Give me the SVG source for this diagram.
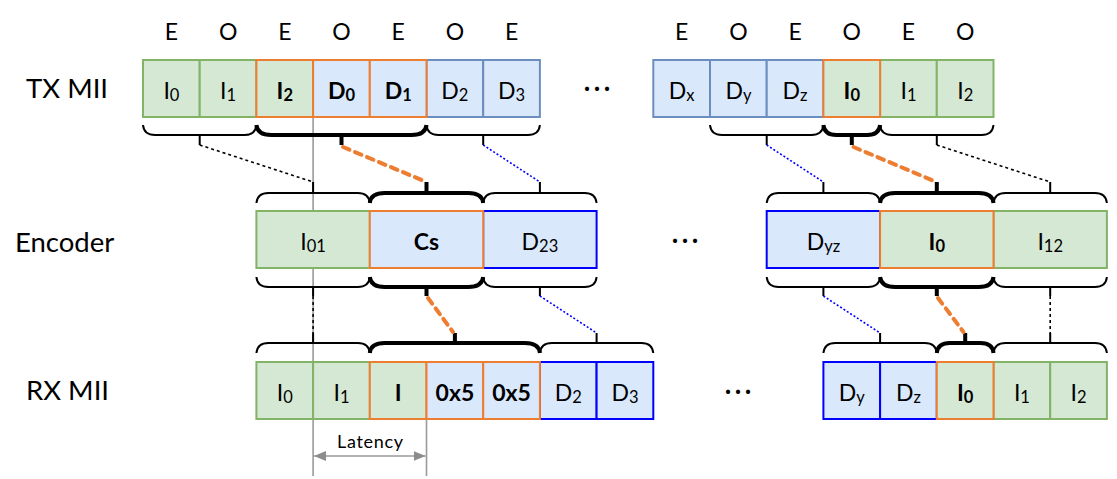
<svg xmlns="http://www.w3.org/2000/svg" width="1117" height="479" viewBox="0 0 1117 479">
  <style>
    .g { fill: #d5e8d4; stroke: #82b366; stroke-width: 2; }
    .b { fill: #dae8fc; stroke: #6c8ebf; stroke-width: 2; }
    .bb { fill: #dae8fc; stroke: #0000ff; stroke-width: 2; }
    .go { fill: #d5e8d4; stroke: #ed7d31; stroke-width: 2; }
    .bo { fill: #dae8fc; stroke: #ed7d31; stroke-width: 2; }
    text { font-family: Lato, "Liberation Sans", sans-serif; fill: #000; }
    .t { font-size: 23px; text-anchor: middle; }
    .s { font-size: 16.5px; }
    .k { font-weight: 700; }
    .lbl { font-size: 27.5px; }
    .dots { font-size: 22px; font-weight: 700; text-anchor: middle; }
    .brace { fill: none; stroke: #000; stroke-width: 2; }
    .brace.thick { stroke-width: 4; }
    .dotk { stroke: #000; stroke-width: 1.6; stroke-dasharray: 3 3; }
    .dotb { stroke: #0000ff; stroke-width: 1.6; stroke-dasharray: 2 2; }
    .dasho { stroke: #ed7d31; stroke-width: 4; stroke-dasharray: 7 6; stroke-linecap: round; }
    .guide { stroke: #9a9a9a; stroke-width: 1.6; fill: none; }
  </style>
  <defs>
    <marker id="tri" viewBox="0 0 12 10" refX="12" refY="5" markerWidth="12" markerHeight="10" markerUnits="userSpaceOnUse" orient="auto-start-reverse">
      <path d="M0,0 L12,5 L0,10 z" fill="#8c8c8c"/>
    </marker>
  </defs>

  <!-- row labels -->
  <g id="row-labels">
    <text class="lbl" x="26" y="98">TX MII</text>
    <text class="lbl" x="15" y="252">Encoder</text>
    <text class="lbl" x="26" y="400">RX MII</text>
  </g>

  <!-- even / odd markers above the TX lane -->
  <g id="parity">
    <text class="t" x="171.4" y="40">E</text>
    <text class="t" x="228.1" y="40">O</text>
    <text class="t" x="284.8" y="40">E</text>
    <text class="t" x="341.5" y="40">O</text>
    <text class="t" x="398.2" y="40">E</text>
    <text class="t" x="454.9" y="40">O</text>
    <text class="t" x="511.6" y="40">E</text>
    <text class="t" x="681.7" y="40">E</text>
    <text class="t" x="738.4" y="40">O</text>
    <text class="t" x="795.1" y="40">E</text>
    <text class="t" x="851.8" y="40">O</text>
    <text class="t" x="908.5" y="40">E</text>
    <text class="t" x="965.2" y="40">O</text>
  </g>

  <!-- latency guides (behind everything else) -->
  <g id="latency">
    <line class="guide" x1="313.1" y1="117" x2="313.1" y2="476"/>
    <line class="guide" x1="426.5" y1="419" x2="426.5" y2="476"/>
    <line class="guide" x1="314" y1="456" x2="425.6" y2="456" marker-start="url(#tri)" marker-end="url(#tri)"/>
    <text x="370" y="448" font-size="18" text-anchor="middle" textLength="66">Latency</text>
  </g>

  <!-- TX MII lane -->
  <g id="tx-I0"><rect class="g" x="143" y="60" width="56.7" height="57"/><text class="t" x="171.4" y="99">I<tspan class="s" dy="2">0</tspan></text></g>
  <g id="tx-I1"><rect class="g" x="199.7" y="60" width="56.7" height="57"/><text class="t" x="228.1" y="99">I<tspan class="s" dy="2">1</tspan></text></g>
  <g id="tx-D2"><rect class="b" x="426.5" y="60" width="56.7" height="57"/><text class="t" x="454.9" y="99">D<tspan class="s" dy="2">2</tspan></text></g>
  <g id="tx-D3"><rect class="b" x="483.2" y="60" width="56.7" height="57"/><text class="t" x="511.6" y="99">D<tspan class="s" dy="2">3</tspan></text></g>
  <g id="tx-I2"><rect class="go" x="256.4" y="60" width="56.7" height="57"/><text class="t k" x="284.8" y="99">I<tspan class="s" dy="2">2</tspan></text></g>
  <g id="tx-D0"><rect class="bo" x="313.1" y="60" width="56.7" height="57"/><text class="t k" x="341.5" y="99">D<tspan class="s" dy="2">0</tspan></text></g>
  <g id="tx-D1"><rect class="bo" x="369.8" y="60" width="56.7" height="57"/><text class="t k" x="398.2" y="99">D<tspan class="s" dy="2">1</tspan></text></g>
  <g id="tx-gap"><text class="dots" x="587 597 607" y="96">···</text></g>
  <g id="tx-Dx"><rect class="b" x="653.3" y="60" width="56.7" height="57"/><text class="t" x="681.7" y="99">D<tspan class="s" dy="2">x</tspan></text></g>
  <g id="tx-Dy"><rect class="b" x="710" y="60" width="56.7" height="57"/><text class="t" x="738.4" y="99">D<tspan class="s" dy="2">y</tspan></text></g>
  <g id="tx-Dz"><rect class="b" x="766.7" y="60" width="56.7" height="57"/><text class="t" x="795.1" y="99">D<tspan class="s" dy="2">z</tspan></text></g>
  <g id="tx-I1b"><rect class="g" x="880.1" y="60" width="56.7" height="57"/><text class="t" x="908.5" y="99">I<tspan class="s" dy="2">1</tspan></text></g>
  <g id="tx-I2b"><rect class="g" x="936.8" y="60" width="56.7" height="57"/><text class="t" x="965.2" y="99">I<tspan class="s" dy="2">2</tspan></text></g>
  <g id="tx-I0b"><rect class="go" x="823.4" y="60" width="56.7" height="57"/><text class="t k" x="851.8" y="99">I<tspan class="s" dy="2">0</tspan></text></g>

  <!-- Encoder lane -->
  <g id="enc-I01"><rect class="g" x="256.4" y="211" width="113.4" height="57"/><text class="t" x="313.1" y="250">I<tspan class="s" dy="2">01</tspan></text></g>
  <g id="enc-D23"><rect class="bb" x="483.2" y="211" width="113.4" height="57"/><text class="t" x="539.9" y="250">D<tspan class="s" dy="2">23</tspan></text></g>
  <g id="enc-Cs"><rect class="bo" x="369.8" y="211" width="113.4" height="57"/><text class="t k" x="426.5" y="250">Cs</text></g>
  <g id="enc-gap"><text class="dots" x="675 685 695" y="248">···</text></g>
  <g id="enc-Dyz"><rect class="bb" x="766.7" y="211" width="113.4" height="57"/><text class="t" x="823.4" y="250">D<tspan class="s" dy="2">yz</tspan></text></g>
  <g id="enc-I12"><rect class="g" x="993.5" y="211" width="113.4" height="57"/><text class="t" x="1050.2" y="250">I<tspan class="s" dy="2">12</tspan></text></g>
  <g id="enc-I0"><rect class="go" x="880.1" y="211" width="113.4" height="57"/><text class="t k" x="936.8" y="250">I<tspan class="s" dy="2">0</tspan></text></g>

  <!-- RX MII lane -->
  <g id="rx-I0"><rect class="g" x="256.4" y="362" width="56.7" height="57"/><text class="t" x="284.8" y="401">I<tspan class="s" dy="2">0</tspan></text></g>
  <g id="rx-I1"><rect class="g" x="313.1" y="362" width="56.7" height="57"/><text class="t" x="341.5" y="401">I<tspan class="s" dy="2">1</tspan></text></g>
  <g id="rx-D2"><rect class="bb" x="539.9" y="362" width="56.7" height="57"/><text class="t" x="568.3" y="401">D<tspan class="s" dy="2">2</tspan></text></g>
  <g id="rx-D3"><rect class="bb" x="596.6" y="362" width="56.7" height="57"/><text class="t" x="625" y="401">D<tspan class="s" dy="2">3</tspan></text></g>
  <g id="rx-I"><rect class="go" x="369.8" y="362" width="56.7" height="57"/><text class="t k" x="398.2" y="401">I</text></g>
  <g id="rx-0x5a"><rect class="bo" x="426.5" y="362" width="56.7" height="57"/><text class="t k" x="454.9" y="401">0x5</text></g>
  <g id="rx-0x5b"><rect class="bo" x="483.2" y="362" width="56.7" height="57"/><text class="t k" x="511.6" y="401">0x5</text></g>
  <g id="rx-gap"><text class="dots" x="728 738 748" y="399">···</text></g>
  <g id="rx-Dy"><rect class="bb" x="823.4" y="362" width="56.7" height="57"/><text class="t" x="851.8" y="401">D<tspan class="s" dy="2">y</tspan></text></g>
  <g id="rx-Dz"><rect class="bb" x="880.1" y="362" width="56.7" height="57"/><text class="t" x="908.5" y="401">D<tspan class="s" dy="2">z</tspan></text></g>
  <g id="rx-I1b"><rect class="g" x="993.5" y="362" width="56.7" height="57"/><text class="t" x="1021.9" y="401">I<tspan class="s" dy="2">1</tspan></text></g>
  <g id="rx-I2b"><rect class="g" x="1050.2" y="362" width="56.7" height="57"/><text class="t" x="1078.6" y="401">I<tspan class="s" dy="2">2</tspan></text></g>
  <g id="rx-I0b"><rect class="go" x="936.8" y="362" width="56.7" height="57"/><text class="t k" x="965.2" y="401">I<tspan class="s" dy="2">0</tspan></text></g>

  <!-- grouping braces and the links between lanes -->
  <g id="connectors">
    <!-- braces under TX -->
    <path class="brace" d="M143,125 Q144,135 155,135 H244.4 Q255.4,135 256.4,125 M199.7,135 V145"/>
    <path class="brace thick" d="M256.4,125 Q257.4,135 271.4,135 H411.5 Q425.5,135 426.5,125 M341.5,135 V145"/>
    <path class="brace" d="M426.5,125 Q427.5,135 438.5,135 H527.9 Q538.9,135 539.9,125 M483.2,135 V145"/>
    <path class="brace" d="M710,125 Q711,135 722,135 H811.4 Q822.4,135 823.4,125 M766.7,135 V145"/>
    <path class="brace thick" d="M823.4,125 Q824.4,135 836.4,135 H867.1 Q879.1,135 880.1,125 M851.8,135 V145"/>
    <path class="brace" d="M880.1,125 Q881.1,135 892.1,135 H981.5 Q992.5,135 993.5,125 M936.8,135 V145"/>

    <!-- braces above encoder -->
    <path class="brace" d="M256.4,203 Q257.4,193 268.4,193 H357.8 Q368.8,193 369.8,203 M313.1,193 V182"/>
    <path class="brace thick" d="M369.8,203 Q370.8,193 384.8,193 H468.2 Q482.2,193 483.2,203 M426.5,193 V182"/>
    <path class="brace" d="M483.2,203 Q484.2,193 495.2,193 H584.6 Q595.6,193 596.6,203 M539.9,193 V182"/>
    <path class="brace" d="M766.7,203 Q767.7,193 778.7,193 H868.1 Q879.1,193 880.1,203 M823.4,193 V182"/>
    <path class="brace thick" d="M880.1,203 Q881.1,193 895.1,193 H978.5 Q992.5,193 993.5,203 M936.8,193 V182"/>
    <path class="brace" d="M993.5,203 Q994.5,193 1005.5,193 H1094.9 Q1105.9,193 1106.9,203 M1050.2,193 V182"/>

    <!-- braces under encoder -->
    <path class="brace" d="M256.4,277 Q257.4,287 268.4,287 H357.8 Q368.8,287 369.8,277 M313.1,287 V296"/>
    <path class="brace thick" d="M369.8,277 Q370.8,287 384.8,287 H468.2 Q482.2,287 483.2,277 M426.5,287 V296"/>
    <path class="brace" d="M483.2,277 Q484.2,287 495.2,287 H584.6 Q595.6,287 596.6,277 M539.9,287 V296"/>
    <path class="brace" d="M766.7,277 Q767.7,287 778.7,287 H868.1 Q879.1,287 880.1,277 M823.4,287 V296"/>
    <path class="brace thick" d="M880.1,277 Q881.1,287 895.1,287 H978.5 Q992.5,287 993.5,277 M936.8,287 V296"/>
    <path class="brace" d="M993.5,277 Q994.5,287 1005.5,287 H1094.9 Q1105.9,287 1106.9,277 M1050.2,287 V296"/>

    <!-- braces above RX -->
    <path class="brace" d="M256.4,353 Q257.4,343 268.4,343 H357.8 Q368.8,343 369.8,353 M313.1,343 V333"/>
    <path class="brace thick" d="M369.8,353 Q370.8,343 384.8,343 H524.9 Q538.9,343 539.9,353 M454.9,343 V333"/>
    <path class="brace" d="M539.9,353 Q540.9,343 551.9,343 H641.3 Q652.3,343 653.3,353 M596.6,343 V333"/>
    <path class="brace" d="M823.4,353 Q824.4,343 835.4,343 H924.8 Q935.8,343 936.8,353 M880.1,343 V333"/>
    <path class="brace thick" d="M936.8,353 Q937.8,343 949.8,343 H980.5 Q992.5,343 993.5,353 M965.2,343 V333"/>
    <path class="brace" d="M993.5,353 Q994.5,343 1005.5,343 H1094.9 Q1105.9,343 1106.9,353 M1050.2,343 V333"/>

    <!-- TX to encoder -->
    <line class="dotk" x1="199.7" y1="145" x2="313.1" y2="182"/>
    <line class="dasho" x1="343" y1="147" x2="424" y2="181"/>
    <line class="dotb" x1="483.2" y1="145" x2="539.9" y2="182"/>
    <line class="dotb" x1="766.7" y1="145" x2="823.4" y2="182"/>
    <line class="dasho" x1="853.5" y1="147" x2="934" y2="181"/>
    <line class="dotk" x1="936.8" y1="145" x2="1050.2" y2="182"/>

    <!-- encoder to RX -->
    <line class="dotk" x1="313.1" y1="296" x2="313.1" y2="333"/>
    <line class="dasho" x1="428" y1="298" x2="453" y2="332"/>
    <line class="dotb" x1="539.9" y1="296" x2="596.6" y2="333"/>
    <line class="dotb" x1="823.4" y1="296" x2="880.1" y2="333"/>
    <line class="dasho" x1="938" y1="298" x2="963.5" y2="332"/>
    <line class="dotk" x1="1050.2" y1="296" x2="1050.2" y2="333"/>
  </g>
</svg>
